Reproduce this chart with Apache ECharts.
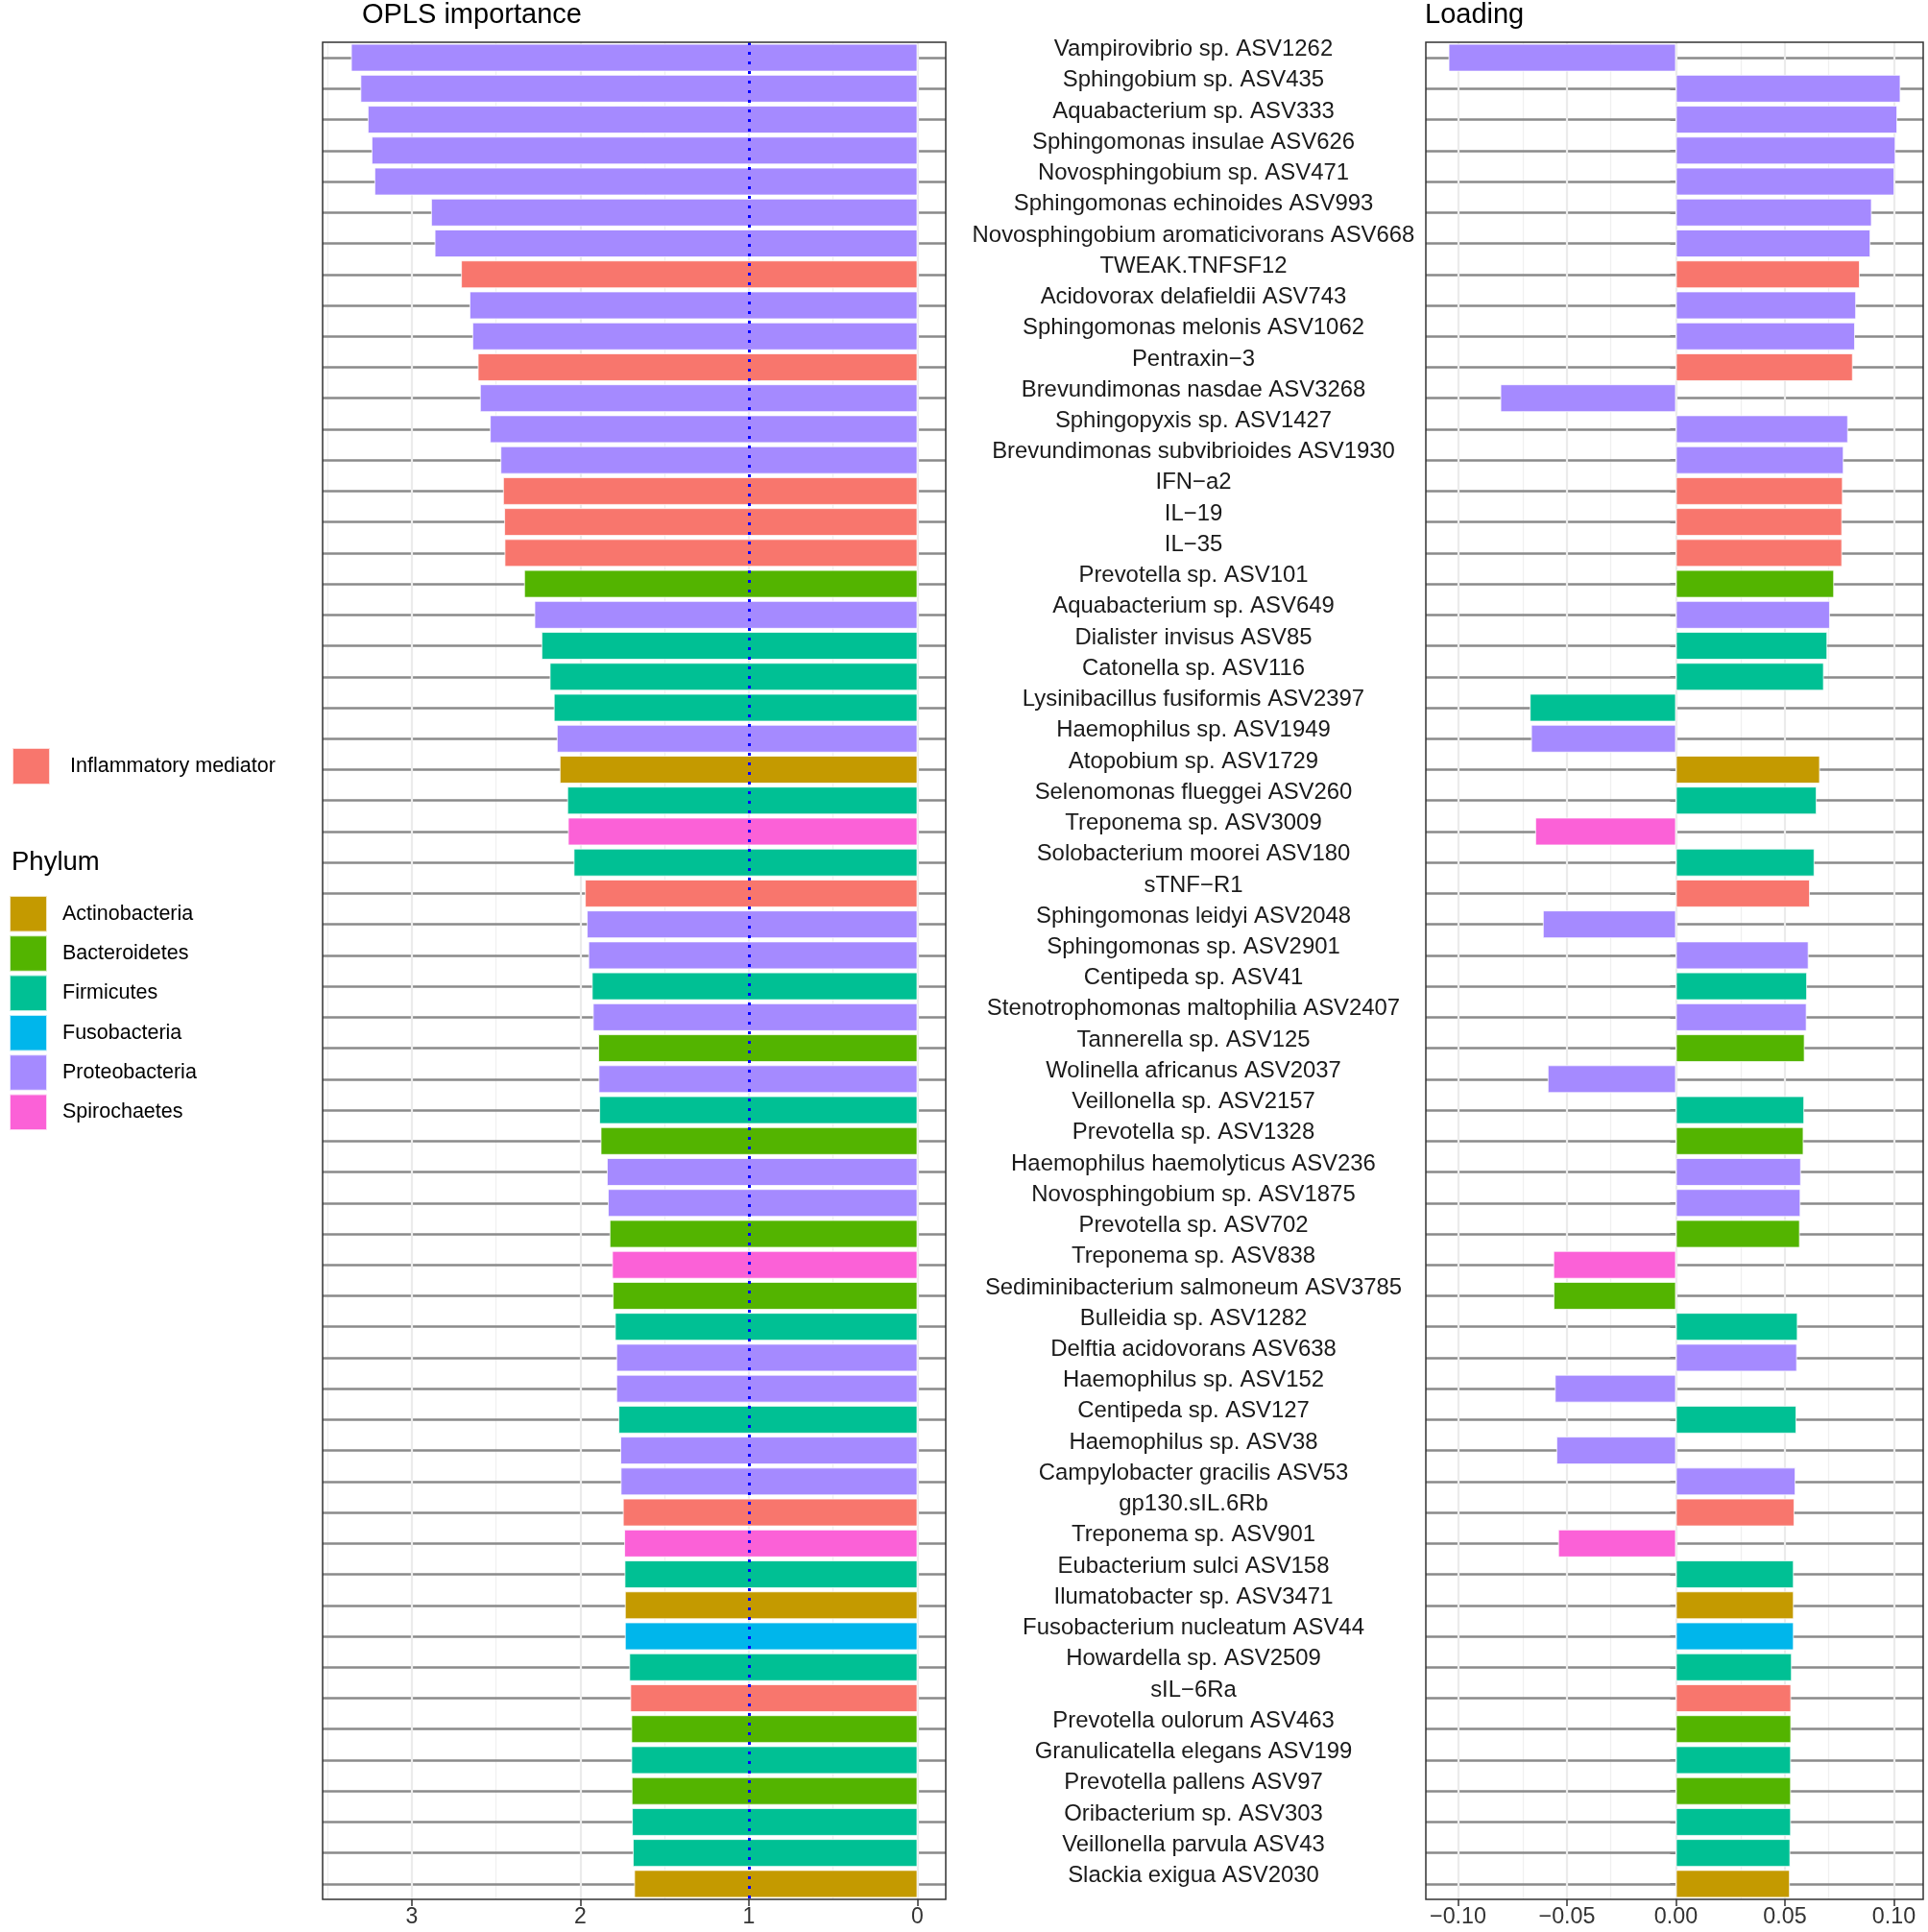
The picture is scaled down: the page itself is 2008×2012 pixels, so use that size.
<!DOCTYPE html>
<html><head><meta charset="utf-8">
<script src="https://cdn.jsdelivr.net/npm/echarts@6/dist/echarts.min.js"></script>
<style>html,body{margin:0;padding:0;background:#fff}#c{width:2008px;height:2012px}</style>
</head><body><div id="c"></div>
<script>
const labels = [
"Vampirovibrio sp. ASV1262","Sphingobium sp. ASV435","Aquabacterium sp. ASV333","Sphingomonas insulae ASV626",
"Novosphingobium sp. ASV471","Sphingomonas echinoides ASV993","Novosphingobium aromaticivorans ASV668","TWEAK.TNFSF12",
"Acidovorax delafieldii ASV743","Sphingomonas melonis ASV1062","Pentraxin\u22123","Brevundimonas nasdae ASV3268",
"Sphingopyxis sp. ASV1427","Brevundimonas subvibrioides ASV1930","IFN\u2212a2","IL\u221219","IL\u221235",
"Prevotella sp. ASV101","Aquabacterium sp. ASV649","Dialister invisus ASV85","Catonella sp. ASV116",
"Lysinibacillus fusiformis ASV2397","Haemophilus sp. ASV1949","Atopobium sp. ASV1729","Selenomonas flueggei ASV260",
"Treponema sp. ASV3009","Solobacterium moorei ASV180","sTNF\u2212R1","Sphingomonas leidyi ASV2048",
"Sphingomonas sp. ASV2901","Centipeda sp. ASV41","Stenotrophomonas maltophilia ASV2407","Tannerella sp. ASV125",
"Wolinella africanus ASV2037","Veillonella sp. ASV2157","Prevotella sp. ASV1328","Haemophilus haemolyticus ASV236",
"Novosphingobium sp. ASV1875","Prevotella sp. ASV702","Treponema sp. ASV838","Sediminibacterium salmoneum ASV3785",
"Bulleidia sp. ASV1282","Delftia acidovorans ASV638","Haemophilus sp. ASV152","Centipeda sp. ASV127",
"Haemophilus sp. ASV38","Campylobacter gracilis ASV53","gp130.sIL.6Rb","Treponema sp. ASV901",
"Eubacterium sulci ASV158","Ilumatobacter sp. ASV3471","Fusobacterium nucleatum ASV44","Howardella sp. ASV2509",
"sIL\u22126Ra","Prevotella oulorum ASV463","Granulicatella elegans ASV199","Prevotella pallens ASV97",
"Oribacterium sp. ASV303","Veillonella parvula ASV43","Slackia exigua ASV2030"
];
const importance = [
3.361,3.305,3.262,3.239,3.222,2.886,2.865,2.708,2.658,2.641,
2.609,2.596,2.537,2.474,2.459,2.452,2.450,2.334,2.273,2.231,
2.182,2.158,2.140,2.123,2.078,2.074,2.040,1.973,1.962,1.953,
1.932,1.926,1.894,1.892,1.888,1.880,1.843,1.837,1.827,1.812,
1.808,1.795,1.787,1.787,1.774,1.763,1.761,1.748,1.740,1.738,
1.736,1.736,1.710,1.704,1.698,1.698,1.696,1.694,1.689,1.681
];
const loading = [
-0.1044,0.1031,0.1016,0.1008,0.1003,0.0899,0.0893,0.0844,0.0827,0.0822,
0.0812,-0.0806,0.0790,0.0770,0.0766,0.0763,0.0763,0.0726,0.0707,0.0695,
0.0679,-0.0671,-0.0665,0.0661,0.0646,-0.0646,0.0636,0.0615,-0.0611,0.0609,
0.0602,0.0600,0.0591,-0.0589,0.0589,0.0586,0.0574,0.0572,0.0569,-0.0563,
-0.0562,0.0559,0.0556,-0.0556,0.0553,-0.0549,0.0549,0.0544,-0.0541,0.0541,
0.0541,0.0541,0.0532,0.0529,0.0529,0.0528,0.0528,0.0528,0.0525,0.0523
];
const groupCodes = [
'P','P','P','P','P','P','P','I','P','P',
'I','P','P','P','I','I','I','B','P','F',
'F','F','P','A','F','S','F','I','P','P',
'F','P','B','P','F','B','P','P','B','S',
'B','F','P','P','F','P','P','I','S','F',
'A','Fu','F','I','B','F','B','F','F','A'
];
const groupKeys = ['I','A','B','F','Fu','P','S'];
const groupNames = ['Inflammatory mediator','Actinobacteria','Bacteroidetes','Firmicutes','Fusobacteria','Proteobacteria','Spirochaetes'];
const groupColors = ['#F8766D','#C49A00','#53B400','#00C094','#00B6EB','#A58AFF','#FB61D7'];
const impTicks = [0,1,2,3];
const impMinor = [0.5,1.5,2.5,3.5];
const loadTicks = [-0.1,-0.05,0,0.05,0.1];
const loadMinor = [-0.075,-0.025,0.025,0.075];
const vipThreshold = 1;

const FONT = "'Liberation Sans', Arial, Helvetica, sans-serif";

function expand(arr){
  const lo = Math.min(0, ...arr), hi = Math.max(0, ...arr);
  const pad = (hi - lo) * 0.05;
  return [lo - pad, hi + pad];
}
const impExt = expand(importance);
const loadExt = expand(loading);

function lineLayer(idx, data, color, width, z, type){
  return {
    type:'line', xAxisIndex:idx, yAxisIndex:idx, data:[], silent:true,
    markLine:{
      silent:true, z:z, symbol:['none','none'], animation:false,
      label:{show:false}, emphasis:{disabled:true},
      lineStyle:{color:color, width:width, type:type||'solid', cap:'butt'},
      data:data
    }
  };
}

const series = [];
[0,1].forEach(function(p){
  series.push(lineLayer(p, (p===0?impMinor:loadMinor).map(v=>({xAxis:v})), '#F0F0F0', 1.3, 1));
  series.push(lineLayer(p, labels.map(l=>({yAxis:l})), '#8A8A8A', 2.7, 2));
  series.push(lineLayer(p, (p===0?impTicks:loadTicks).map(v=>({xAxis:v})), '#EBEBEB', 2.2, 3));
  const vals = p===0 ? importance : loading;
  groupKeys.forEach(function(k, gi){
    series.push({
      type:'bar', name:groupNames[gi], xAxisIndex:p, yAxisIndex:p, z:4,
      barWidth:'90%', barGap:'-100%',
      itemStyle:{color:groupColors[gi], borderColor:'rgba(255,255,255,0.75)', borderWidth:1},
      emphasis:{disabled:true},
      data: vals.map((v,i)=> groupCodes[i]===k ? v : '-')
    });
  });
});
series.push(lineLayer(0, [{xAxis:vipThreshold}], '#0000FF', 3, 6, [3,7]));

const option = {
  animation:false,
  textStyle:{fontFamily:FONT},
  title:[
    {text:'OPLS importance', left:377, top:0, padding:0, textStyle:{fontSize:29, fontWeight:'normal', color:'#000', lineHeight:31, fontFamily:FONT}},
    {text:'Loading', left:1484, top:0, padding:0, textStyle:{fontSize:29, fontWeight:'normal', color:'#000', lineHeight:31, fontFamily:FONT}},
    {text:'Phylum', left:12, top:883, padding:0, textStyle:{fontSize:27.5, fontWeight:'normal', color:'#000', lineHeight:30, fontFamily:FONT}}
  ],
  legend:[
    {data:[groupNames[0]], left:12, top:778, orient:'vertical', icon:'rect', itemWidth:39, itemHeight:38, itemGap:0, padding:0, selectedMode:false,
     textStyle:{fontSize:21.5, color:'#000', padding:[0,0,0,16], fontFamily:FONT}},
    {data:groupNames.slice(1), left:9, top:932, orient:'vertical', icon:'rect', itemWidth:39, itemHeight:37.5, itemGap:1.8, padding:0, selectedMode:false,
     textStyle:{fontSize:21.5, color:'#000', padding:[0,0,0,11], fontFamily:FONT}}
  ],
  grid:[
    {left:336, top:44, width:649, height:1934, show:true, borderColor:'#333', borderWidth:1.5, z:10},
    {left:1485, top:44, width:518, height:1934, show:true, borderColor:'#333', borderWidth:1.5, z:10}
  ],
  xAxis:[
    {type:'value', gridIndex:0, inverse:true, min:impExt[0], max:impExt[1],
     splitLine:{show:false}, axisLine:{show:false},
     axisTick:{show:true, customValues:impTicks, length:7, lineStyle:{color:'#333', width:1.5}},
     axisLabel:{customValues:impTicks, fontSize:23, color:'#333', margin:7, fontFamily:FONT, formatter:v=>String(v)}},
    {type:'value', gridIndex:1, min:loadExt[0], max:loadExt[1],
     splitLine:{show:false}, axisLine:{show:false},
     axisTick:{show:true, customValues:loadTicks, length:7, lineStyle:{color:'#333', width:1.5}},
     axisLabel:{customValues:loadTicks, fontSize:23.3, color:'#333', margin:7, fontFamily:FONT,
       formatter:v=>(v<-1e-9?'\u2212':'')+Math.abs(v).toFixed(2)}}
  ],
  yAxis:[
    {type:'category', gridIndex:0, data:labels, inverse:true,
     axisLine:{show:false}, axisTick:{show:false}, axisLabel:{show:false}, splitLine:{show:false}},
    {type:'category', gridIndex:1, data:labels, inverse:true,
     axisLine:{show:false},
     axisTick:{show:true, alignWithLabel:true, length:6, lineStyle:{color:'#333', width:1.5}},
     axisLabel:{interval:0, align:'center', verticalAlign:'bottom', lineHeight:17, margin:242, fontSize:23.9, color:'#1a1a1a', fontFamily:FONT},
     splitLine:{show:false}}
  ],
  series:series
};
const chart = echarts.init(document.getElementById('c'), null, {renderer:'canvas'});
chart.setOption(option);
</script>
</body></html>
